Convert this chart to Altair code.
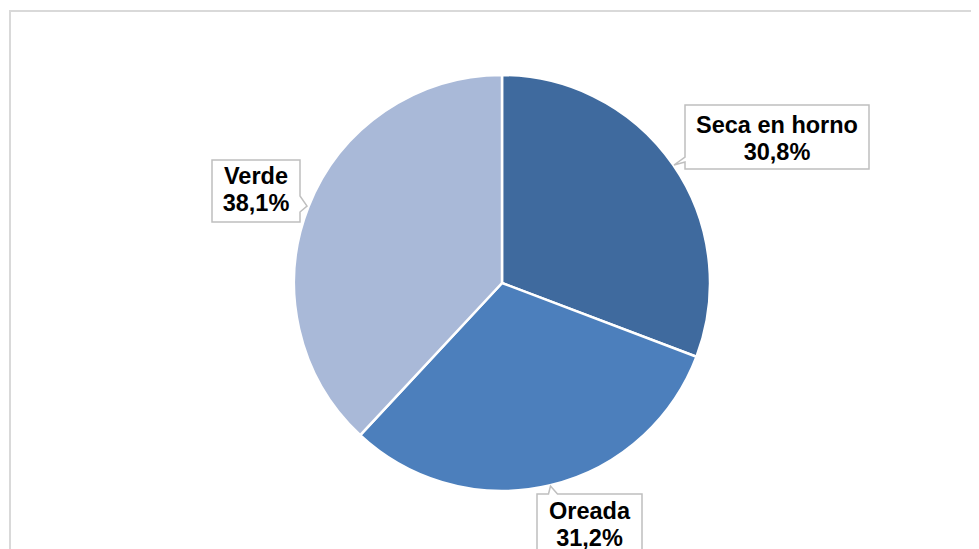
import altair as alt
import pandas as pd

# ---- data ----
categories = ["Seca en horno", "Oreada", "Verde"]
values = [30.8, 31.2, 38.1]
colors = ["#3F6A9E", "#4C7FBC", "#A9B9D8"]

labels = [f"{c}\n{str(v).replace('.', ',')}%" for c, v in zip(categories, values)]
df = pd.DataFrame({
    "categoria": categories,
    "valor": values,
    "orden": list(range(len(categories))),
    "etiqueta": labels,
})

# ---- layout (view pixel coordinates) ----
W, H = 963, 541
CX, CY, R = 494, 275, 208
# (box centre x, box centre y, first text line y, callout path)
callouts = {
    "Seca en horno": (769, 129, 118,
                      "M-92,-32 L92,-32 L92,32 L-92,32 L-92,25 L-103,28 L-92,20 Z"),
    "Verde": (248, 183, 168.5,
              "M-44,-31 L44,-31 L44,5 L51,15 L44,21 L44,31 L-44,31 Z"),
    "Oreada": (581.5, 518, 503.5,
               "M-52.5,-32 L-41,-32 L-39,-40 L-32,-32 L52.5,-32 L52.5,32 L-52.5,32 Z"),
}

base = alt.Chart(df)

pie = base.mark_arc(outerRadius=R, stroke="white", strokeWidth=2.5).encode(
    theta=alt.Theta("valor:Q", stack=True),
    order=alt.Order("orden:Q"),
    color=alt.Color("categoria:N", scale=alt.Scale(domain=categories, range=colors), legend=None),
    x=alt.value(CX),
    y=alt.value(CY),
)

frame_data = alt.Data(values=[{"k": 1}])
frame_left = alt.Chart(frame_data).mark_rule(color="#D9D9D9", strokeWidth=2).encode(
    x=alt.value(2), y=alt.value(2), y2=alt.value(H)
)
frame_top = alt.Chart(frame_data).mark_rule(color="#D9D9D9", strokeWidth=2).encode(
    y=alt.value(3), x=alt.value(1), x2=alt.value(W)
)

layers = [frame_left, frame_top, pie]
for cat, (lx, ly, ty, path) in callouts.items():
    sub = base.transform_filter(alt.datum.categoria == cat)
    box = sub.mark_point(
        shape=path, size=4, filled=True, fill="white", stroke="#BFBFBF",
        strokeWidth=1.5, opacity=1, fillOpacity=1, strokeOpacity=1,
    ).encode(x=alt.value(lx), y=alt.value(ly))
    txt = sub.mark_text(
        font="Liberation Sans", fontSize=23.5, fontWeight="bold", color="black",
        align="center", baseline="middle", lineBreak="\n", lineHeight=27,
    ).encode(text="etiqueta:N", x=alt.value(lx), y=alt.value(ty))
    layers += [box, txt]

chart = alt.layer(*layers).properties(
    width=W, height=H, autosize=alt.AutoSizeParams(type="none"), padding=0,
    background="white",
).configure_view(stroke=None)

chart.save("out.html", embed_options={"renderer": "svg", "actions": False})
